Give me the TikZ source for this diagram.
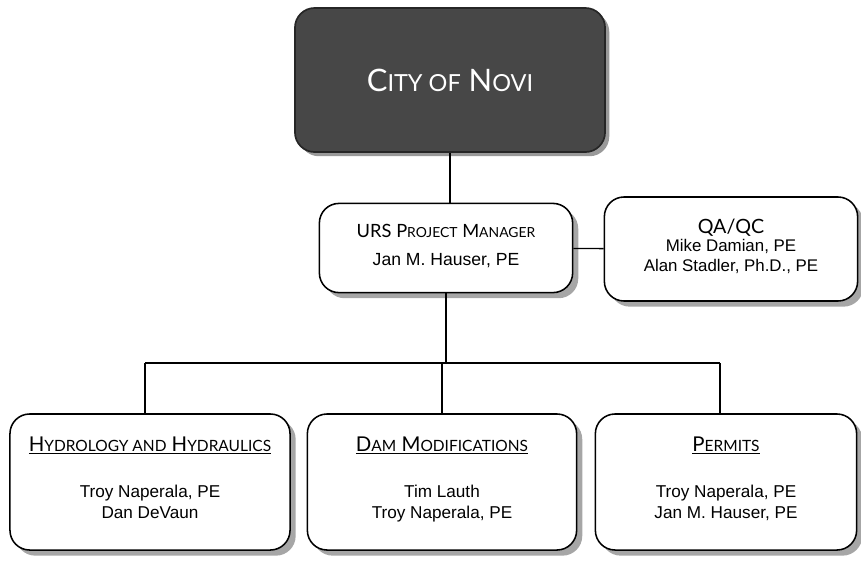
\documentclass[tikz,border=0pt]{standalone}
\usepackage{fontspec}
\setmainfont{Liberation Sans}
\newfontfamily\headfont{Lato}
\usetikzlibrary{shadows}
\makeatletter
\newcommand{\lowcaps}[1]{{\fontsize{\fpeval{0.76*\f@size}}{1}\selectfont #1}}
\makeatother
\tikzset{
  unitbox/.style={draw, line width=1.1pt, rounded corners=14pt, align=center,
    fill=white, inner sep=0pt,
    drop shadow={fill=black!35, shadow xshift=4pt, shadow yshift=-4pt, opacity=1}},
  citybox/.style={draw=black!85, line width=1.2pt, rounded corners=14pt,
    fill=black!72, text=white, inner sep=0pt,
    drop shadow={fill=black!40, shadow xshift=3pt, shadow yshift=-3pt, opacity=1}},
  link/.style={line width=1pt},
}
\begin{document}
\begin{tikzpicture}[x=0.025cm, y=-0.025cm]
    \useasboundingbox (0, 0) rectangle (861, 561);

    \node[citybox, minimum width=7.75cm, minimum height=3.6cm] (city) at (450, 80)
        {\headfont\fontsize{22}{24}\selectfont C\lowcaps{ITY OF} N\lowcaps{OVI}};

    \node[unitbox, minimum width=6.33cm, minimum height=2.23cm] (pm) at (446, 248)
        {{\headfont\fontsize{13}{15}\selectfont URS P\lowcaps{ROJECT} M\lowcaps{ANAGER}}\\[8pt]
         \fontsize{12.5}{14}\selectfont Jan M. Hauser, PE\\[-8pt]\mbox{}};
    \node[unitbox, minimum width=6.33cm, minimum height=2.6cm] (qa) at (731, 249)
        {{\headfont\fontsize{14}{15}\selectfont QA/QC}\\[1pt]
         \fontsize{12}{14.5}\selectfont Mike Damian, PE\\[2pt]
         \fontsize{12}{14.5}\selectfont Alan Stadler, Ph.D., PE\\[-6pt]\mbox{}};

    \node[unitbox, minimum width=7cm, minimum height=3.4cm] (hydro) at (150, 482)
        {{\headfont\fontsize{14.5}{17}\selectfont\underline{H\lowcaps{YDROLOGY AND} H\lowcaps{YDRAULICS}}}\\[21pt]
         \fontsize{12.2}{15.5}\selectfont Troy Naperala, PE\\[3pt]
         \fontsize{12.2}{15.5}\selectfont Dan DeVaun\\[-6pt]\mbox{}};
    \node[unitbox, minimum width=6.73cm, minimum height=3.4cm] (dam) at (442, 482)
        {{\headfont\fontsize{14.5}{17}\selectfont\underline{D\lowcaps{AM} M\lowcaps{ODIFICATIONS}}}\\[21pt]
         \fontsize{12.2}{15.5}\selectfont Tim Lauth\\[3pt]
         \fontsize{12.2}{15.5}\selectfont Troy Naperala, PE\\[-6pt]\mbox{}};
    \node[unitbox, minimum width=6.53cm, minimum height=3.4cm] (permits) at (726, 482)
        {{\headfont\fontsize{14.5}{17}\selectfont\underline{P\lowcaps{ERMITS}}}\\[21pt]
         \fontsize{12.2}{15.5}\selectfont Troy Naperala, PE\\[3pt]
         \fontsize{12.2}{15.5}\selectfont Jan M. Hauser, PE\\[-6pt]\mbox{}};

    \coordinate (hstem) at (145, 363);
    \coordinate (pstem) at (720, 363);

    \draw[link] (city.south) -- (city.south |- pm.north);
    \draw[link] (pm) -- (qa);
    \draw[link] (pm.south) -- (pm.south |- hstem);
    \draw[link] (hstem) -- (pstem);
    \draw[link] (hstem) -- (hstem |- hydro.north);
    \draw[link] (dam.north |- hstem) -- (dam.north);
    \draw[link] (pstem) -- (pstem |- permits.north);
\end{tikzpicture}
\end{document}
